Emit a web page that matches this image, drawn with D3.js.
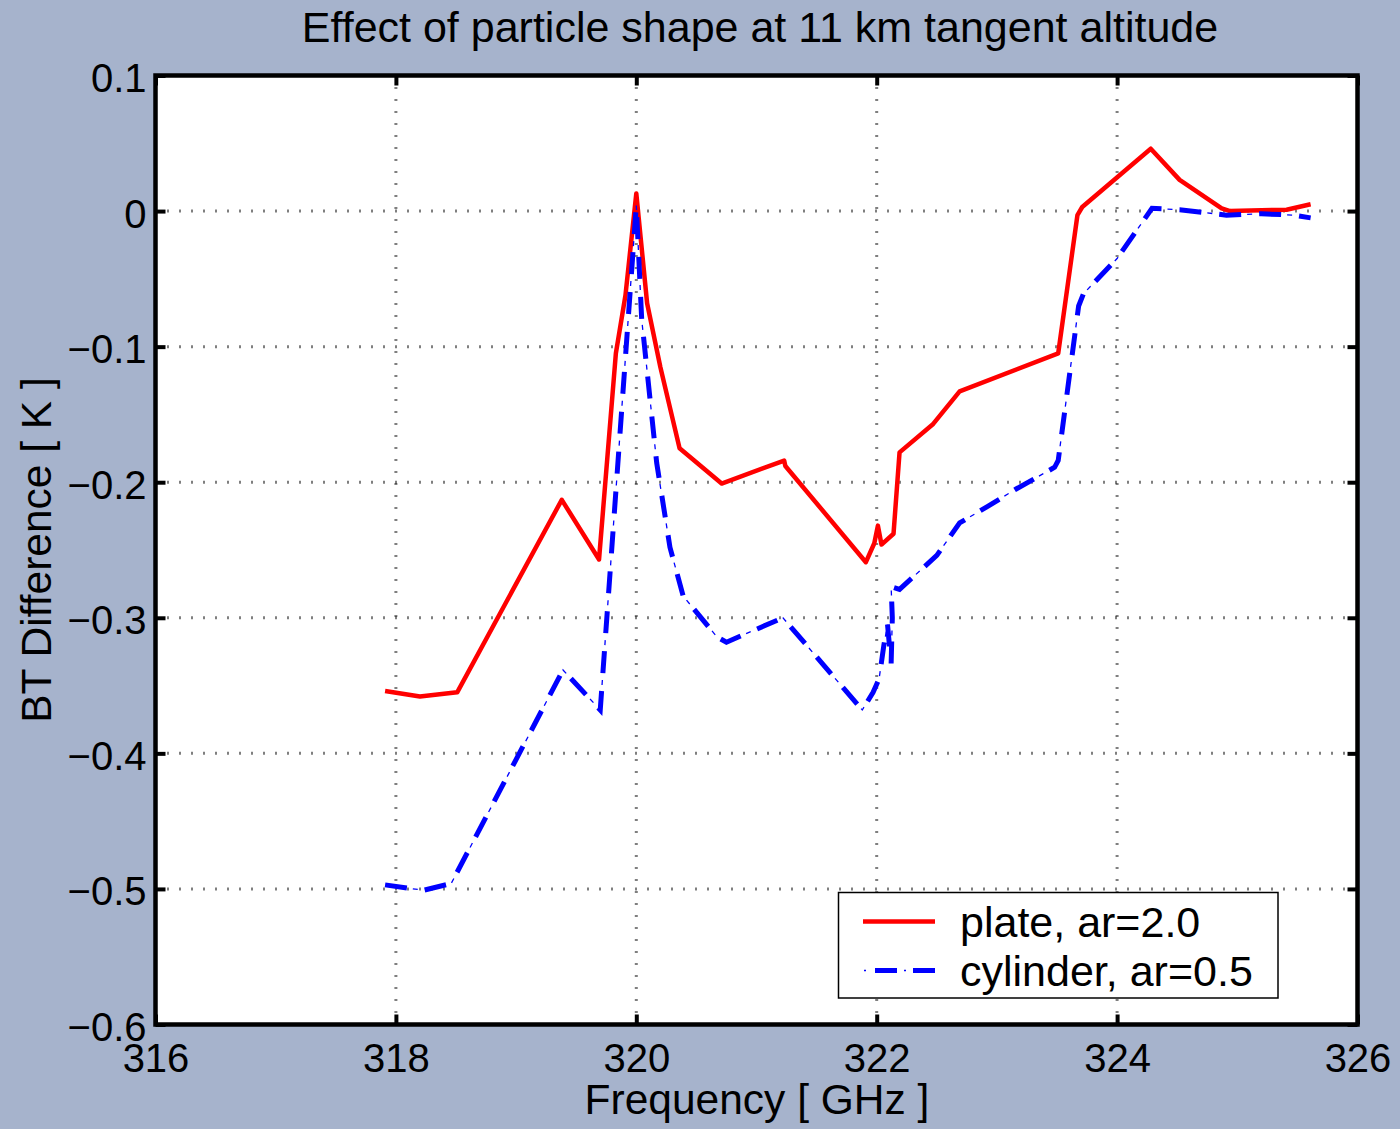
<!DOCTYPE html>
<html>
<head>
<meta charset="utf-8">
<script src="https://cdn.jsdelivr.net/npm/d3@7"></script>
<style>
  html, body { margin: 0; padding: 0; background: #a6b3cc; }
  svg { display: block; }
  text { font-family: "Liberation Sans", Arial, Helvetica, sans-serif; fill: #000; }
</style>
</head>
<body>
<svg id="chart" width="1400" height="1129"></svg>
<script>
// ---- Data ----
const title = "Effect of particle shape at 11 km tangent altitude";
const xLabel = "Frequency [ GHz ]";
const yLabel = "BT Difference [ K ]";
const seriesNames = ["plate, ar=2.0", "cylinder, ar=0.5"];

const xTicks = [316, 318, 320, 322, 324, 326];
const yTicks = [0.1, 0, -0.1, -0.2, -0.3, -0.4, -0.5, -0.6];

const plateFreq = [317.91, 318.20, 318.51, 319.38, 319.69, 319.83, 319.91, 320.00, 320.09, 320.20,
                   320.36, 320.71, 321.23, 321.24, 321.91, 321.98, 322.01, 322.04, 322.14, 322.19,
                   322.47, 322.69, 323.51, 323.67, 323.71, 324.28, 324.52, 324.87, 324.94, 325.41, 325.61];
const plateBT   = [-0.354, -0.358, -0.355, -0.213, -0.257, -0.105, -0.062, 0.013, -0.068, -0.115,
                   -0.175, -0.201, -0.184, -0.188, -0.259, -0.245, -0.232, -0.246, -0.238, -0.178,
                   -0.157, -0.133, -0.105, -0.003, 0.003, 0.046, 0.023, 0.002, 0.000, 0.001, 0.005];

const cylFreq = [317.91, 318.23, 318.46, 319.39, 319.70, 320.00, 320.045, 320.17, 320.28, 320.39,
                 320.67, 320.75, 321.22, 321.88, 321.97, 322.02, 322.06, 322.09, 322.12, 322.13,
                 322.12, 322.19, 322.50, 322.69, 322.92, 323.16, 323.48, 323.51, 323.68, 323.72,
                 324.00, 324.29, 324.52, 324.91, 325.20, 325.47, 325.61];
const cylBT   = [-0.497, -0.501, -0.496, -0.3385, -0.368, 0.004, -0.080, -0.186, -0.248, -0.284,
                 -0.314, -0.318, -0.300, -0.368, -0.355, -0.345, -0.320, -0.305, -0.334, -0.300,
                 -0.277, -0.279, -0.254, -0.230, -0.218, -0.205, -0.189, -0.184, -0.070, -0.061,
                 -0.035, 0.002, 0.001, -0.003, -0.002, -0.003, -0.005];

// ---- Layout ----
const svg = d3.select("#chart");
const L = 155.5, R = 1357.5, T = 75.5, B = 1024.5;
const x = d3.scaleLinear().domain([316, 326]).range([L, R]);
const y = d3.scaleLinear().domain([-0.6, 0.1]).range([B, T]);

// plot background
svg.append("rect").attr("x", L).attr("y", T).attr("width", R - L).attr("height", B - T)
  .attr("fill", "#fff");

// grid
const grid = svg.append("g");
grid.selectAll("line.gx").data(xTicks.filter(d => d > 316 && d < 326)).enter().append("line")
  .attr("x1", d => x(d)).attr("x2", d => x(d)).attr("y1", T).attr("y2", B)
  .attr("stroke", "#000").attr("stroke-width", 3).attr("stroke-dasharray", "1,11");
grid.selectAll("line.gy").data(yTicks.filter(d => d < 0.1 && d > -0.6)).enter().append("line")
  .attr("y1", d => y(d)).attr("y2", d => y(d)).attr("x1", L).attr("x2", R)
  .attr("stroke", "#000").attr("stroke-width", 3).attr("stroke-dasharray", "1,11");

// lines
const line = d3.line().x(d => x(d[0])).y(d => y(d[1]));
const plate = plateFreq.map((f, i) => [f, plateBT[i]]);
const cyl = cylFreq.map((f, i) => [f, cylBT[i]]);

const plotG = svg.append("g");
plotG.append("path").datum(plate).attr("d", line)
  .attr("fill", "none").attr("stroke", "#ff0000").attr("stroke-width", 4.5)
  .attr("stroke-linejoin", "round");
plotG.append("path").datum(cyl).attr("d", line)
  .attr("fill", "none").attr("stroke", "#0000ff").attr("stroke-width", 5)
  .attr("stroke-dasharray", "22,18");
plotG.append("path").datum(cyl).attr("d", line)
  .attr("fill", "none").attr("stroke", "#0000ff").attr("stroke-width", 1.3)
  .attr("stroke-dasharray", "5,35").attr("stroke-dashoffset", -28);

// axes
const fmtY = d => d === 0 ? "0" : d3.format(".1f")(d);
const axB = svg.append("g").attr("transform", `translate(0,${B})`)
  .call(d3.axisBottom(x).tickValues(xTicks).tickSize(-10).tickPadding(19).tickFormat(d3.format("d")));
const axT = svg.append("g").attr("transform", `translate(0,${T})`)
  .call(d3.axisTop(x).tickValues(xTicks).tickSize(-10).tickFormat(""));
const axL = svg.append("g").attr("transform", `translate(${L},0)`)
  .call(d3.axisLeft(y).tickValues(yTicks).tickSize(-10).tickPadding(9).tickFormat(fmtY));
const axR = svg.append("g").attr("transform", `translate(${R},0)`)
  .call(d3.axisRight(y).tickValues(yTicks).tickSize(-10).tickFormat(""));
[axB, axT, axL, axR].forEach(g => {
  g.select(".domain").remove();
  g.selectAll(".tick line").attr("stroke", "#000").attr("stroke-width", 4);
  g.selectAll(".tick text").attr("font-size", 40).attr("fill", "#000")
    .style("font-family", '"Liberation Sans", Arial, sans-serif');
});
axL.selectAll(".tick text").attr("dy", "0.4em");

// border
svg.append("rect").attr("x", L).attr("y", T).attr("width", R - L).attr("height", B - T)
  .attr("fill", "none").attr("stroke", "#000").attr("stroke-width", 4.5);

// title & labels
svg.append("text").attr("x", 760).attr("y", 42).attr("text-anchor", "middle")
  .attr("font-size", 43).text(title);
svg.append("text").attr("x", 757).attr("y", 1114).attr("text-anchor", "middle")
  .attr("font-size", 42.5).text(xLabel);
svg.append("text").attr("transform", "translate(51,550) rotate(-90)").attr("text-anchor", "middle")
  .attr("font-size", 42.5).text(yLabel);

// legend
const lg = svg.append("g");
lg.append("rect").attr("x", 838.5).attr("y", 892.5).attr("width", 439.5).attr("height", 105.5)
  .attr("fill", "#fff").attr("stroke", "#000").attr("stroke-width", 1.5);
lg.append("line").attr("x1", 863).attr("x2", 935).attr("y1", 921.5).attr("y2", 921.5)
  .attr("stroke", "#ff0000").attr("stroke-width", 4.5);
lg.append("line").attr("x1", 863).attr("x2", 935).attr("y1", 970.5).attr("y2", 970.5)
  .attr("stroke", "#0000ff").attr("stroke-width", 5).attr("stroke-dasharray", "0,12,22,8,0,8,22,100");
lg.append("line").attr("x1", 863).attr("x2", 935).attr("y1", 970.5).attr("y2", 970.5)
  .attr("stroke", "#0000ff").attr("stroke-width", 1.3).attr("stroke-dasharray", "0,1,2,38,2,100");
lg.selectAll("text.lt").data(seriesNames).enter().append("text")
  .attr("x", 960).attr("y", (d, i) => 936.5 + i * 49).attr("font-size", 43).text(d => d);
</script>
</body>
</html>
